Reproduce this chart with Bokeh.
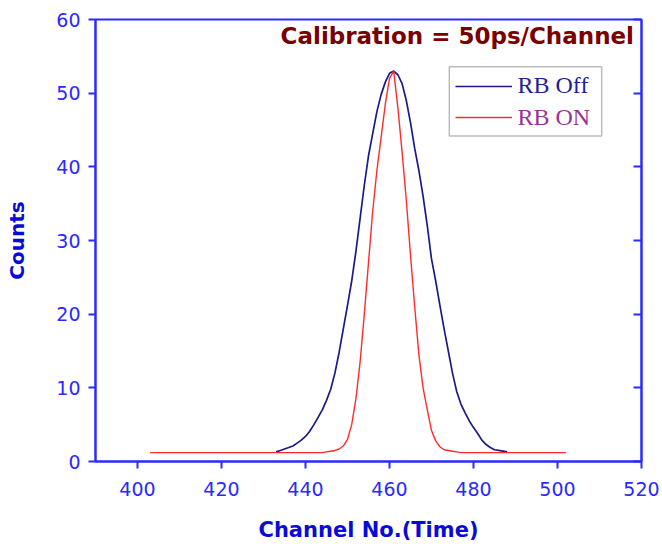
from bokeh.plotting import figure
from bokeh.models import Legend, LegendItem, Label, BoxAnnotation, LinearAxis, ColumnDataSource
from bokeh.embed import file_html
from bokeh.resources import INLINE

# ---- data ----
off_channel = list(range(433, 489))
off_counts = [1.3, 1.5, 1.7, 1.9, 2.1, 2.5, 2.9, 3.4, 4.1, 5.0,
              6.0, 7.0, 8.3, 9.8, 12.0, 14.8, 18.0, 21.2, 24.5, 28.5,
              33.0, 37.5, 41.5, 44.5, 47.5, 49.8, 51.5, 52.7, 53.0, 52.5,
              51.3, 49.0, 46.0, 42.5, 39.5, 36.0, 32.0, 27.5, 24.5, 21.2,
              18.0, 15.0, 12.0, 9.5, 7.8, 6.6, 5.5, 4.6, 3.8, 2.9,
              2.3, 1.9, 1.6, 1.5, 1.4, 1.3]
on_channel = list(range(403, 503))
on_counts = ([1.2] * 42 +
             [1.3, 1.4, 1.5, 1.7, 2.1, 3.0, 5.0, 8.5, 13.5, 20.0,
              27.0, 34.0, 39.5, 44.0, 48.5, 52.0, 53.0, 48.0, 42.0, 35.5,
              28.0, 21.0, 14.5, 10.0, 7.0, 4.2, 2.8, 2.0, 1.6, 1.5,
              1.4, 1.3] +
             [1.2] * 26)
series_names = ["RB Off", "RB ON"]
x_ticks = [400, 420, 440, 460, 480, 500, 520]
y_ticks = [0, 10, 20, 30, 40, 50, 60]
title_text = "Calibration = 50ps/Channel"

AXIS_BLUE = "#2a2aff"
TITLE_BLUE = "#0a0ad6"

p = figure(width=662, height=544, x_range=(390, 520), y_range=(0, 60),
           output_backend="svg", toolbar_location=None,
           min_border_left=95, min_border_right=21, min_border_top=19, min_border_bottom=82)
p.grid.visible = False
p.outline_line_color = AXIS_BLUE
p.outline_line_width = 2
p.background_fill_color = "white"
p.border_fill_color = "white"

src_off = ColumnDataSource(dict(x=off_channel, y=off_counts))
src_on = ColumnDataSource(dict(x=on_channel, y=on_counts))
r_off = p.line("x", "y", source=src_off, line_color="#1a1a8a", line_width=1.7)
r_on = p.line("x", "y", source=src_on, line_color="#ff2a2a", line_width=1.4)

# axes
for ax in (p.xaxis[0], p.yaxis[0]):
    ax.axis_line_color = AXIS_BLUE
    ax.axis_line_width = 2
    ax.major_tick_line_color = AXIS_BLUE
    ax.minor_tick_line_color = AXIS_BLUE
    ax.major_tick_line_width = 2
    ax.minor_tick_line_width = 2
    ax.major_tick_out = 7
    ax.major_tick_in = 0
    ax.minor_tick_in = 3
    ax.minor_tick_out = 0
    ax.major_label_text_color = AXIS_BLUE
    ax.major_label_text_font = "DejaVu Sans"
    ax.major_label_text_font_size = "19px"
    ax.axis_label_text_color = TITLE_BLUE
    ax.axis_label_text_font = "DejaVu Sans"
    ax.axis_label_text_font_style = "bold"

p.xaxis[0].ticker = x_ticks
p.xaxis[0].ticker.num_minor_ticks = 2
p.yaxis[0].ticker = y_ticks
p.yaxis[0].ticker.num_minor_ticks = 2
p.xaxis[0].major_label_standoff = 13
p.yaxis[0].major_label_standoff = 8
p.xaxis[0].axis_label = "Channel No.(Time)"
p.yaxis[0].axis_label = "Counts"
p.xaxis[0].axis_label_text_font_size = "21px"
p.yaxis[0].axis_label_text_font_size = "20px"
p.xaxis[0].axis_label_standoff = 19
p.yaxis[0].axis_label_standoff = 24

right_axis = LinearAxis(axis_line_color=AXIS_BLUE, axis_line_width=2,
                        major_tick_line_color=AXIS_BLUE, minor_tick_line_color=AXIS_BLUE,
                        major_tick_line_width=2, minor_tick_line_width=2,
                        major_tick_in=8, major_tick_out=0, minor_tick_in=4, minor_tick_out=0,
                        major_label_standoff=0)
right_axis.ticker = y_ticks
right_axis.ticker.num_minor_ticks = 2
right_axis.major_label_overrides = {t: "" for t in y_ticks}
p.add_layout(right_axis, "right")

# title inside plot
p.add_layout(Label(x=538.5, y=425.5, x_units="screen", y_units="screen", text=title_text,
                   text_align="right", text_baseline="alphabetic",
                   text_font="DejaVu Sans", text_font_style="bold",
                   text_font_size="23px", text_color="#780000"))

# legend (two stacked legends so labels can have different colours) + box
common = dict(border_line_alpha=0, background_fill_alpha=0, padding=0, margin=0, spacing=0,
              glyph_width=57, glyph_height=30, label_height=30, label_standoff=6,
              label_text_font="Liberation Serif", label_text_font_size="24px")
leg1 = Legend(items=[LegendItem(label=series_names[0], renderers=[r_off])],
              location=(359.5, 360.5), label_text_color="#1e1e96", **common)
leg2 = Legend(items=[LegendItem(label=series_names[1], renderers=[r_on])],
              location=(359.5, 328.8), label_text_color="#993399", **common)
p.add_layout(leg1, "center")
p.add_layout(leg2, "center")
p.add_layout(BoxAnnotation(left=353.8, right=506.2, top=394.8, bottom=325.5,
                           left_units="screen", right_units="screen",
                           top_units="screen", bottom_units="screen",
                           fill_alpha=0, line_color="#202020", line_width=1.5))

open("out.html", "w").write(file_html(p, INLINE))
